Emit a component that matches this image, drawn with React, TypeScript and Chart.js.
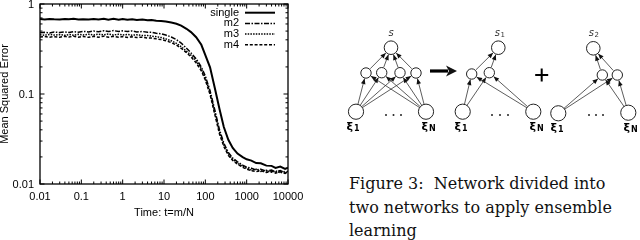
import React, { useEffect, useRef } from 'react';
import { Chart, registerables } from 'chart.js';
Chart.register(...registerables);

// ---------------- plot data ----------------
const times = [0.01, 0.013, 0.017, 0.022, 0.03, 0.04, 0.05, 0.065, 0.085, 0.11, 0.15, 0.2, 0.26, 0.35, 0.45, 0.6, 0.8, 1, 1.3, 1.7, 2.2, 3, 4, 5, 6.5, 8.5, 11, 15, 20, 26, 35, 45, 60, 80, 100, 130, 170, 220, 280, 360, 460, 600, 800, 1000, 1300, 1700, 2200, 3000, 4000, 5000, 6500, 8500, 10000];

const singleMSE = [0.680, 0.674, 0.683, 0.677, 0.672, 0.681, 0.675, 0.684, 0.673, 0.679, 0.671, 0.683, 0.674, 0.686, 0.669, 0.684, 0.667, 0.682, 0.670, 0.678, 0.663, 0.671, 0.659, 0.665, 0.652, 0.649, 0.639, 0.624, 0.604, 0.574, 0.530, 0.487, 0.428, 0.352, 0.270, 0.198, 0.116, 0.068, 0.043, 0.031, 0.0252, 0.0218, 0.0199, 0.0188, 0.0182, 0.0171, 0.0170, 0.0160, 0.0159, 0.0151, 0.0156, 0.0147, 0.0152];

const m2MSE = [0.478, 0.484, 0.476, 0.488, 0.481, 0.490, 0.483, 0.494, 0.486, 0.497, 0.489, 0.501, 0.492, 0.505, 0.494, 0.506, 0.495, 0.503, 0.494, 0.502, 0.490, 0.495, 0.484, 0.486, 0.473, 0.466, 0.452, 0.430, 0.402, 0.368, 0.323, 0.286, 0.246, 0.199, 0.158, 0.109, 0.066, 0.040, 0.0285, 0.0224, 0.0194, 0.0176, 0.0162, 0.0154, 0.0150, 0.0143, 0.0146, 0.0139, 0.0143, 0.0136, 0.0141, 0.0134, 0.0139];

const m3MSE = [0.455, 0.450, 0.459, 0.452, 0.457, 0.449, 0.458, 0.451, 0.460, 0.452, 0.461, 0.453, 0.462, 0.454, 0.463, 0.452, 0.461, 0.453, 0.459, 0.450, 0.455, 0.446, 0.447, 0.439, 0.434, 0.424, 0.410, 0.390, 0.366, 0.336, 0.299, 0.270, 0.233, 0.190, 0.150, 0.104, 0.062, 0.038, 0.0272, 0.0215, 0.0188, 0.0170, 0.0157, 0.0150, 0.0143, 0.0146, 0.0138, 0.0142, 0.0135, 0.0140, 0.0133, 0.0138, 0.0132];

const m4MSE = [0.430, 0.436, 0.428, 0.434, 0.427, 0.437, 0.429, 0.438, 0.428, 0.436, 0.426, 0.437, 0.428, 0.439, 0.427, 0.437, 0.426, 0.435, 0.425, 0.432, 0.424, 0.428, 0.419, 0.418, 0.410, 0.402, 0.391, 0.372, 0.350, 0.322, 0.288, 0.258, 0.222, 0.181, 0.143, 0.099, 0.059, 0.036, 0.0262, 0.0208, 0.0183, 0.0166, 0.0153, 0.0146, 0.0141, 0.0137, 0.0141, 0.0134, 0.0139, 0.0132, 0.0137, 0.0131, 0.0136];

const seriesLabels = ['single', 'm2', 'm3', 'm4'];
const xTickValues = [0.01, 0.1, 1, 10, 100, 1000, 10000];
const xTickLabels = ['0.01', '0.1', '1', '10', '100', '1000', '10000'];
const yTickValues = [0.01, 0.1, 1];
const yTickLabels = ['0.01', '0.1', '1'];
const xTitle = 'Time: t=m/N';
const yTitle = 'Mean Squared Error';

// ---------------- diagram data ----------------
const nodeX = [71, 46, 61.7, 80, 96, 36, 106, 178.3, 151.7, 169.3, 142.7, 213.3, 273.3, 282.3, 297.3, 238.3, 308.3];
const nodeY = [47.7, 73, 72.7, 72.7, 73, 111.7, 111.7, 47.7, 74, 72.7, 111.7, 111.7, 48.3, 75, 75, 113.3, 112.7];
const nodeKind = ['out', 'hid', 'hid', 'hid', 'hid', 'in', 'in', 'out', 'hid', 'hid', 'in', 'in', 'out', 'hid', 'hid', 'in', 'in'];
const edges = [[5, 1], [5, 2], [5, 3], [5, 4], [6, 1], [6, 2], [6, 3], [6, 4], [1, 0], [2, 0], [3, 0], [4, 0],
  [10, 8], [10, 9], [11, 8], [11, 9], [8, 7], [9, 7],
  [15, 13], [15, 14], [16, 13], [16, 14], [13, 12], [14, 12]];
const dotX = [66, 73.5, 81, 172, 180, 188, 269, 276, 283];
const dotY = [115, 115, 115, 115, 115, 115, 115, 115, 115];
const outLabels = [['s', ''], ['s', '1'], ['s', '2']];
const outLabelX = [71, 179, 273];
const outLabelY = [33, 33, 33];
const inLabels = [['ξ', '1'], ['ξ', 'N'], ['ξ', '1'], ['ξ', 'N'], ['ξ', '1'], ['ξ', 'N']];
const inLabelX = [33, 108, 141, 216, 237, 310];
const inLabelY = [127, 127, 127, 127, 128, 128];
const bigArrow = [110, 137, 71];
const plusPos = [221.7, 75];

const SANS = '"Liberation Sans", Arial, Helvetica, sans-serif';
const radiusOf: Record<string, number> = { out: 6.8, hid: 5.2, in: 7.6 };

const plotPlugin = {
  id: 'gnuplotFrame',
  afterDatasetsDraw(chart: any) {
    const { ctx, chartArea: a, scales } = chart;
    const x = scales.x, y = scales.y;
    ctx.save();
    ctx.strokeStyle = '#000';
    ctx.fillStyle = '#000';
    ctx.lineWidth = 1.3;
    ctx.strokeRect(a.left, a.top, a.right - a.left, a.bottom - a.top);
    ctx.lineWidth = 1;
    const majorL = 4.5, minorL = 2.5;
    const tick = (px: number, horiz: boolean, len: number) => {
      ctx.beginPath();
      if (horiz) {
        ctx.moveTo(px, a.bottom); ctx.lineTo(px, a.bottom - len);
        ctx.moveTo(px, a.top); ctx.lineTo(px, a.top + len);
      } else {
        ctx.moveTo(a.left, px); ctx.lineTo(a.left + len, px);
        ctx.moveTo(a.right, px); ctx.lineTo(a.right - len, px);
      }
      ctx.stroke();
    };
    xTickValues.forEach((v, i) => {
      tick(x.getPixelForValue(v), true, majorL);
      if (i < xTickValues.length - 1) for (let k = 2; k < 10; k++) tick(x.getPixelForValue(v * k), true, minorL);
    });
    yTickValues.forEach((v, i) => {
      tick(y.getPixelForValue(v), false, majorL);
      if (i < yTickValues.length - 1) for (let k = 2; k < 10; k++) tick(y.getPixelForValue(v * k), false, minorL);
    });
    ctx.font = '11px ' + SANS;
    ctx.textBaseline = 'middle';
    ctx.textAlign = 'center';
    xTickValues.forEach((v, i) => ctx.fillText(xTickLabels[i], x.getPixelForValue(v), a.bottom + 12.5));
    ctx.textAlign = 'right';
    yTickValues.forEach((v, i) => ctx.fillText(yTickLabels[i], a.left - 6, y.getPixelForValue(v) + 0.5));
    ctx.textAlign = 'center';
    ctx.fillText(xTitle, (a.left + a.right) / 2, a.bottom + 28.5);
    ctx.save();
    ctx.translate(5, (a.top + a.bottom) / 2);
    ctx.rotate(-Math.PI / 2);
    ctx.fillText(yTitle, 0, 0);
    ctx.restore();
    // legend
    chart.data.datasets.forEach((ds: any, i: number) => {
      const ly = a.top + 8.7 + i * 10.7;
      ctx.textAlign = 'right';
      ctx.fillText(ds.label, a.right - 49, ly);
      ctx.save();
      ctx.lineWidth = ds.borderWidth;
      ctx.setLineDash(ds.borderDash || []);
      ctx.beginPath();
      ctx.moveTo(a.right - 43, ly);
      ctx.lineTo(a.right - 13, ly);
      ctx.stroke();
      ctx.restore();
    });
    ctx.restore();
  },
};

const arrowLine = (ctx: any, x1: number, y1: number, x2: number, y2: number, shorten: number) => {
  const dx = x2 - x1, dy = y2 - y1;
  const L = Math.hypot(dx, dy);
  const ux = dx / L, uy = dy / L;
  const ex = x2 - ux * shorten, ey = y2 - uy * shorten;
  ctx.beginPath();
  ctx.moveTo(x1 + ux * 6, y1 + uy * 6);
  ctx.lineTo(ex, ey);
  ctx.stroke();
  const hl = 5.5, hw = 2.3;
  ctx.beginPath();
  ctx.moveTo(ex, ey);
  ctx.lineTo(ex - ux * hl - uy * hw, ey - uy * hl + ux * hw);
  ctx.lineTo(ex - ux * hl + uy * hw, ey - uy * hl - ux * hw);
  ctx.closePath();
  ctx.fill();
};

const netPlugin = {
  id: 'netEdges',
  beforeDatasetsDraw(chart: any) {
    const { ctx, scales } = chart;
    const sx = scales.x, sy = scales.y;
    ctx.save();
    ctx.strokeStyle = '#333';
    ctx.fillStyle = '#111';
    ctx.lineWidth = 0.8;
    edges.forEach(([f, t]) => {
      arrowLine(ctx, sx.getPixelForValue(nodeX[f]), sy.getPixelForValue(nodeY[f]),
        sx.getPixelForValue(nodeX[t]), sy.getPixelForValue(nodeY[t]), radiusOf[nodeKind[t]] + 0.5);
    });
    ctx.restore();
  },
  afterDatasetsDraw(chart: any) {
    const { ctx, scales } = chart;
    const sx = scales.x, sy = scales.y;
    ctx.save();
    ctx.fillStyle = '#111';
    ctx.strokeStyle = '#000';
    // big arrow
    const ax1 = sx.getPixelForValue(bigArrow[0]), ax2 = sx.getPixelForValue(bigArrow[1]), ay = sy.getPixelForValue(bigArrow[2]);
    ctx.lineWidth = 3.2;
    ctx.beginPath(); ctx.moveTo(ax1, ay); ctx.lineTo(ax2 - 9, ay); ctx.stroke();
    ctx.beginPath();
    ctx.moveTo(ax2, ay); ctx.lineTo(ax2 - 11, ay - 5.5); ctx.lineTo(ax2 - 8, ay); ctx.lineTo(ax2 - 11, ay + 5.5);
    ctx.closePath(); ctx.fill();
    // plus
    const px = sx.getPixelForValue(plusPos[0]), py = sy.getPixelForValue(plusPos[1]);
    ctx.lineWidth = 2;
    ctx.beginPath();
    ctx.moveTo(px - 6.5, py); ctx.lineTo(px + 6.5, py);
    ctx.moveTo(px, py - 6.5); ctx.lineTo(px, py + 6.5);
    ctx.stroke();
    // labels
    ctx.textBaseline = 'middle';
    ctx.fillStyle = '#333';
    outLabels.forEach(([m, sub], i) => {
      const lx = sx.getPixelForValue(outLabelX[i]), ly = sy.getPixelForValue(outLabelY[i]);
      ctx.font = 'italic 10px "DejaVu Sans", sans-serif';
      ctx.textAlign = sub ? 'right' : 'center';
      ctx.fillText(m, sub ? lx + 1 : lx, ly);
      if (sub) {
        ctx.font = '7px "DejaVu Sans", sans-serif';
        ctx.textAlign = 'left';
        ctx.fillText(sub, lx + 1.5, ly + 2);
      }
    });
    ctx.fillStyle = '#000';
    inLabels.forEach(([m, sub], i) => {
      const lx = sx.getPixelForValue(inLabelX[i]), ly = sy.getPixelForValue(inLabelY[i]);
      ctx.font = 'bold 11px "DejaVu Sans", sans-serif';
      ctx.textAlign = 'right';
      ctx.fillText(m, lx, ly);
      ctx.font = 'bold 8px "DejaVu Sans", sans-serif';
      ctx.textAlign = 'left';
      ctx.fillText(sub, lx + 1, ly + 2);
    });
    ctx.restore();
  },
};

export default function App() {
  const plotRef = useRef<HTMLCanvasElement>(null);
  const netRef = useRef<HTMLCanvasElement>(null);

  useEffect(() => {
    const mk = (arr: number[]) => times.map((t, i) => ({ x: t, y: arr[i] }));
    const styles = [
      { w: 2, dash: [] as number[] },
      { w: 1.5, dash: [5, 1.5, 1.5, 1.5] },
      { w: 1.5, dash: [1.5, 1.2] },
      { w: 1.5, dash: [3, 1.8] },
    ];
    const series = [singleMSE, m2MSE, m3MSE, m4MSE];
    const plot = new Chart(plotRef.current!, {
      type: 'line',
      data: {
        datasets: series.map((s, i) => ({
          label: seriesLabels[i],
          data: mk(s),
          borderColor: '#000',
          borderWidth: styles[i].w,
          borderDash: styles[i].dash,
          pointRadius: 0,
          tension: 0,
          fill: false,
        })),
      },
      options: {
        responsive: false,
        animation: false,
        devicePixelRatio: 1,
        events: [],
        layout: { autoPadding: false, padding: { left: 40, right: 32, top: 4, bottom: 56 } },
        plugins: { legend: { display: false }, tooltip: { enabled: false } },
        scales: {
          x: { type: 'logarithmic', min: 0.01, max: 10000, display: false },
          y: { type: 'logarithmic', min: 0.01, max: 1, display: false },
        },
      },
      plugins: [plotPlugin],
    } as any);

    const kinds = ['out', 'hid', 'in'];
    const netDatasets: any[] = kinds.map((k) => ({
      label: k,
      data: nodeX.map((x, i) => ({ x, y: nodeY[i] })).filter((_, i) => nodeKind[i] === k),
      pointRadius: radiusOf[k],
      pointBackgroundColor: '#fff',
      pointBorderColor: '#222',
      pointBorderWidth: 1,
      showLine: false,
    }));
    netDatasets.push({
      label: 'dots',
      data: dotX.map((x, i) => ({ x, y: dotY[i] })),
      pointRadius: 1,
      pointBackgroundColor: '#222',
      pointBorderWidth: 0,
      showLine: false,
    });
    const net = new Chart(netRef.current!, {
      type: 'scatter',
      data: { datasets: netDatasets },
      options: {
        responsive: false,
        animation: false,
        devicePixelRatio: 1,
        events: [],
        layout: { autoPadding: false, padding: 0 },
        plugins: { legend: { display: false }, tooltip: { enabled: false } },
        scales: {
          x: { type: 'linear', min: 0, max: 320, display: false },
          y: { type: 'linear', min: 0, max: 160, reverse: true, display: false },
        },
      },
      plugins: [netPlugin],
    } as any);

    return () => { plot.destroy(); net.destroy(); };
  }, []);

  return (
    <div style={{ position: 'absolute', left: 0, top: 0, width: 640, height: 240, background: '#fff', overflow: 'hidden' }}>
      <canvas ref={plotRef} width={320} height={240} style={{ position: 'absolute', left: 0, top: 0 }} />
      <canvas ref={netRef} width={320} height={160} style={{ position: 'absolute', left: 320, top: 0 }} />
      <div style={{ position: 'absolute', left: 349, top: 172, fontFamily: '"DejaVu Serif", serif', fontSize: 16, lineHeight: '23.5px', color: '#111', whiteSpace: 'nowrap' }}>
        Figure 3:&nbsp; Network divided into<br />two networks to apply ensemble<br />learning
      </div>
    </div>
  );
}
